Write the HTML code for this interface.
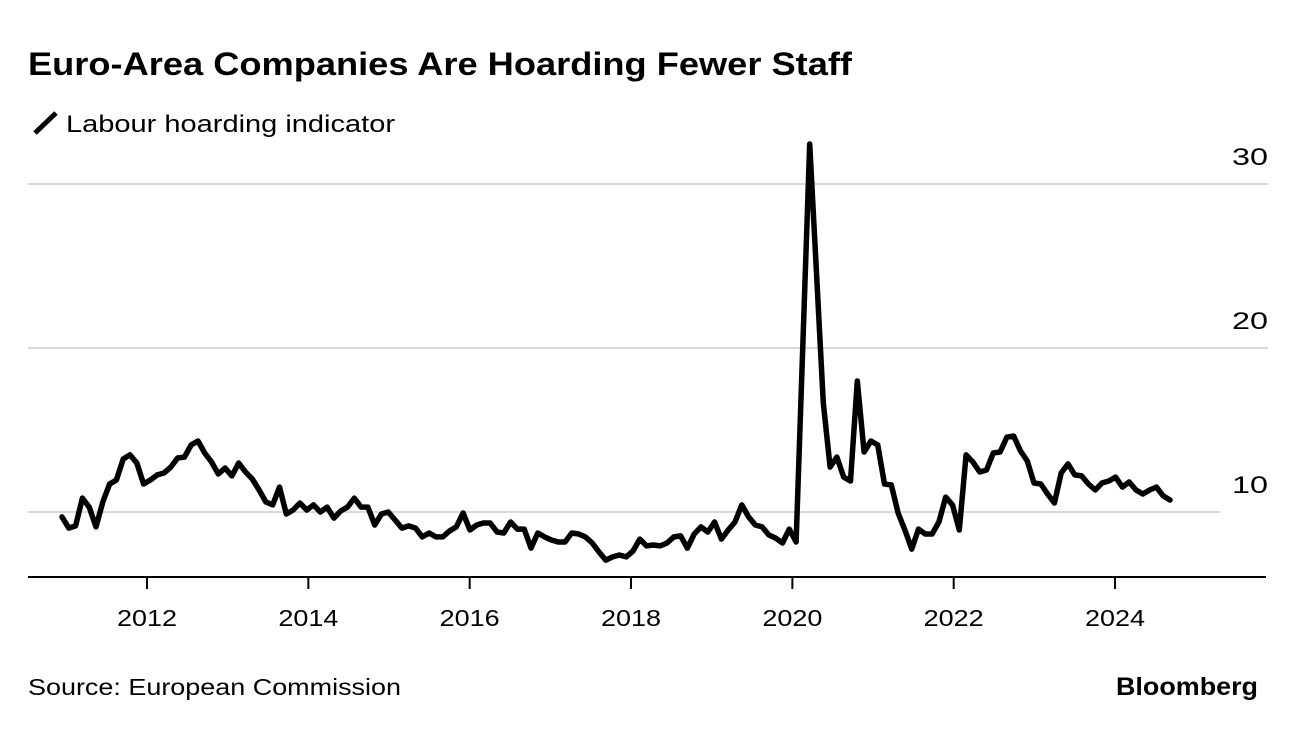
<!DOCTYPE html>
<html><head><meta charset="utf-8"><style>
body{margin:0;background:#fff;font-family:"Liberation Sans",Arial,sans-serif;}
svg text{font-family:"Liberation Sans",Arial,sans-serif;}
</style></head><body>
<svg id="chart" width="1296" height="728" viewBox="0 0 1296 728">
<text x="28" y="75" font-size="32" font-weight="bold" fill="#000" textLength="824" lengthAdjust="spacingAndGlyphs">Euro-Area Companies Are Hoarding Fewer Staff</text>
<g>
<line x1="35" y1="133" x2="56" y2="113" stroke="#000" stroke-width="5"/>
<text x="66" y="132" font-size="24" fill="#000" textLength="329" lengthAdjust="spacingAndGlyphs">Labour hoarding indicator</text>
</g>
<g id="grid"></g><g id="xaxis"></g><g id="series"></g>
<text x="28" y="695" font-size="23" fill="#000" textLength="373" lengthAdjust="spacingAndGlyphs">Source: European Commission</text>
<text x="1116" y="695" font-size="25" font-weight="bold" fill="#000" textLength="142" lengthAdjust="spacingAndGlyphs">Bloomberg</text>
</svg>
<script>
const yTicks=[10,20,30];
const xTickYears=[2012,2014,2016,2018,2020,2022,2024];
const values=[9.70,9.02,9.15,10.85,10.30,9.09,10.61,11.71,11.95,13.23,13.48,12.99,11.71,11.95,12.26,12.38,12.74,13.29,13.35,14.09,14.33,13.60,13.05,12.32,12.68,12.20,12.99,12.44,12.01,11.34,10.61,10.43,11.52,9.88,10.12,10.55,10.12,10.43,10.0,10.30,9.63,10.06,10.30,10.85,10.30,10.30,9.21,9.88,10.0,9.51,9.02,9.15,9.02,8.48,8.72,8.48,
8.48,8.84,9.09,9.94,8.90,9.21,9.33,9.33,8.78,8.72,9.39,8.96,8.96,7.80,8.72,8.48,8.29,8.17,8.17,8.72,8.66,8.48,8.11,7.56,7.07,7.26,7.38,7.26,7.62,8.35,7.93,7.99,7.93,8.11,8.48,8.54,7.80,8.66,9.09,8.78,9.39,8.35,8.90,9.39,10.43,9.70,9.21,9.09,8.60,8.41,8.11,8.96,8.17,20.3,32.44,24.57,16.65,12.74,13.35,12.13,11.89,17.99,13.66,14.33,14.09,11.71,11.65,9.94,8.90,7.74,8.96,8.66,8.66,9.39,10.91,10.43,8.90,13.48,13.05,12.44,12.56,13.60,13.66,14.57,14.63,13.72,13.11,11.77,11.71,11.10,10.55,12.38,12.93,12.26,12.20,11.71,11.34,11.77,11.89,12.13,11.52,11.83,11.34,11.10,11.34,11.52,10.98,10.73];
const NS='http://www.w3.org/2000/svg';
function y(v){return 512-(v-10)*16.4;}
function xYear(yr){return 147+(yr-2012)*80.67;}
function xIdx(i){return 62+i*(1108/(values.length-1));}
function mk(tag,attrs,parent){const e=document.createElementNS(NS,tag);for(const k in attrs)e.setAttribute(k,attrs[k]);parent.appendChild(e);return e;}
const grid=document.getElementById('grid');
yTicks.forEach(t=>{
  const l=mk('line',{x1:28,x2:t===10?1220:1268,y1:y(t),y2:y(t),stroke:'#d9d9d9','stroke-width':2},grid);
  
  
  const tx=mk('text',{x:1232,y:y(t)-19,'font-size':24,fill:'#000',textLength:36,lengthAdjust:'spacingAndGlyphs'},grid);
  tx.textContent=t;
  
  
});
const xa=document.getElementById('xaxis');
const base=mk('line',{x1:28,x2:1266,y1:577,y2:577,stroke:'#000','stroke-width':2},xa);


xTickYears.forEach(yr=>{
  const tk=mk('line',{x1:xYear(yr),x2:xYear(yr),y1:577,y2:589,stroke:'#000','stroke-width':2},xa);
  
  
  const tx=mk('text',{x:xYear(yr)-30,y:626,'font-size':23,fill:'#000',textLength:60,lengthAdjust:'spacingAndGlyphs'},xa);
  tx.textContent=yr;
  
  
});
const d=values.map((v,i)=>(i?'L':'M')+xIdx(i).toFixed(1)+','+y(v).toFixed(1)).join('');
const p=mk('path',{d:d,fill:'none',stroke:'#000','stroke-width':5.5,'stroke-linejoin':'round','stroke-linecap':'round'},document.getElementById('series'));


</script>
</body></html>
